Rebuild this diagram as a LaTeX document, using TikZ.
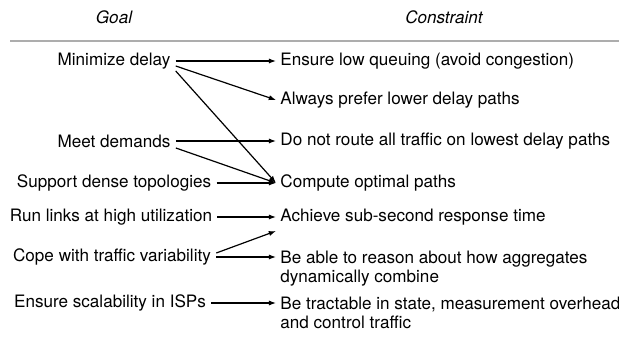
\documentclass[tikz,border=0pt]{standalone}
\usepackage{fontspec}
\setmainfont{TeX Gyre Heros}
\usetikzlibrary{arrows.meta}

\begin{document}
\begin{tikzpicture}[x=0.5pt,y=-0.5pt,
  font=\fontsize{8.55}{9.5}\selectfont,
  goal/.style={inner sep=2.5pt},
  cons/.style={anchor=west, inner sep=2pt, align=left},
  head/.style={font=\fontsize{8.55}{9.5}\selectfont\itshape},
  link/.style={line width=0.6pt, -{Latex[length=3.6pt,width=2.6pt]}}]
\useasboundingbox (0,0) rectangle (619,362);

 % column heads
 \node[head] (hgoal) at (114,17) {Goal};
 \node[head] (hcons) at (444,17) {Constraint};
 \draw[line width=1.1pt, black!32] (10,41) -- (619,41);

 % goals
 \node[goal] (delay)  at (114,61)  {Minimize delay};
 \node[goal] (demand) at (114,141) {Meet demands};
 \node[goal] (dense)  at (114,183) {Support dense topologies};
 \node[goal] (util)   at (111,217) {Run links at high utilization};
 \node[goal] (var)    at (112,257) {Cope with traffic variability};
 \node[goal] (scale)  at (110,303) {Ensure scalability in ISPs};

 % constraints
 \node[cons] (queue)   at (276,61)  {Ensure low queuing (avoid congestion)};
 \node[cons] (lowpath) at (276,100) {Always prefer lower delay paths};
 \node[cons] (noroute) at (276,141) {Do not route all traffic on lowest delay paths};
 \node[cons] (optpath) at (276,183) {Compute optimal paths};
 \node[cons] (subsec)  at (276,217) {Achieve sub-second response time};
 \node[cons, anchor=north west] (aggr)  at (276,247) {Be able to reason about how aggregates\\dynamically combine};
 \node[cons, anchor=north west] (tract) at (276,293) {Be tractable in state, measurement overhead\\and control traffic};

 % delay
 \draw[link] (delay) -- (queue);
 \draw[link] ([yshift=-2.5pt]delay.east) -- (lowpath.west);
 \draw[link] ([yshift=-5pt]delay.east) -- (optpath.west);
 % demands
 \draw[link] (demand) -- (noroute);
 \draw[link] ([yshift=-3.5pt]demand.east) -- (optpath.west);
 \draw[link] (dense) -- (optpath);
 % utilization, variability
 \draw[link] (util) -- (subsec);
 \draw[link] ([yshift=2pt]var.east) -- ([yshift=-7pt]subsec.west);
 \draw[link] (var) -- (var -| aggr.west);
 % scalability
 \draw[link] (scale) -- (scale -| tract.west);
\end{tikzpicture}
\end{document}
